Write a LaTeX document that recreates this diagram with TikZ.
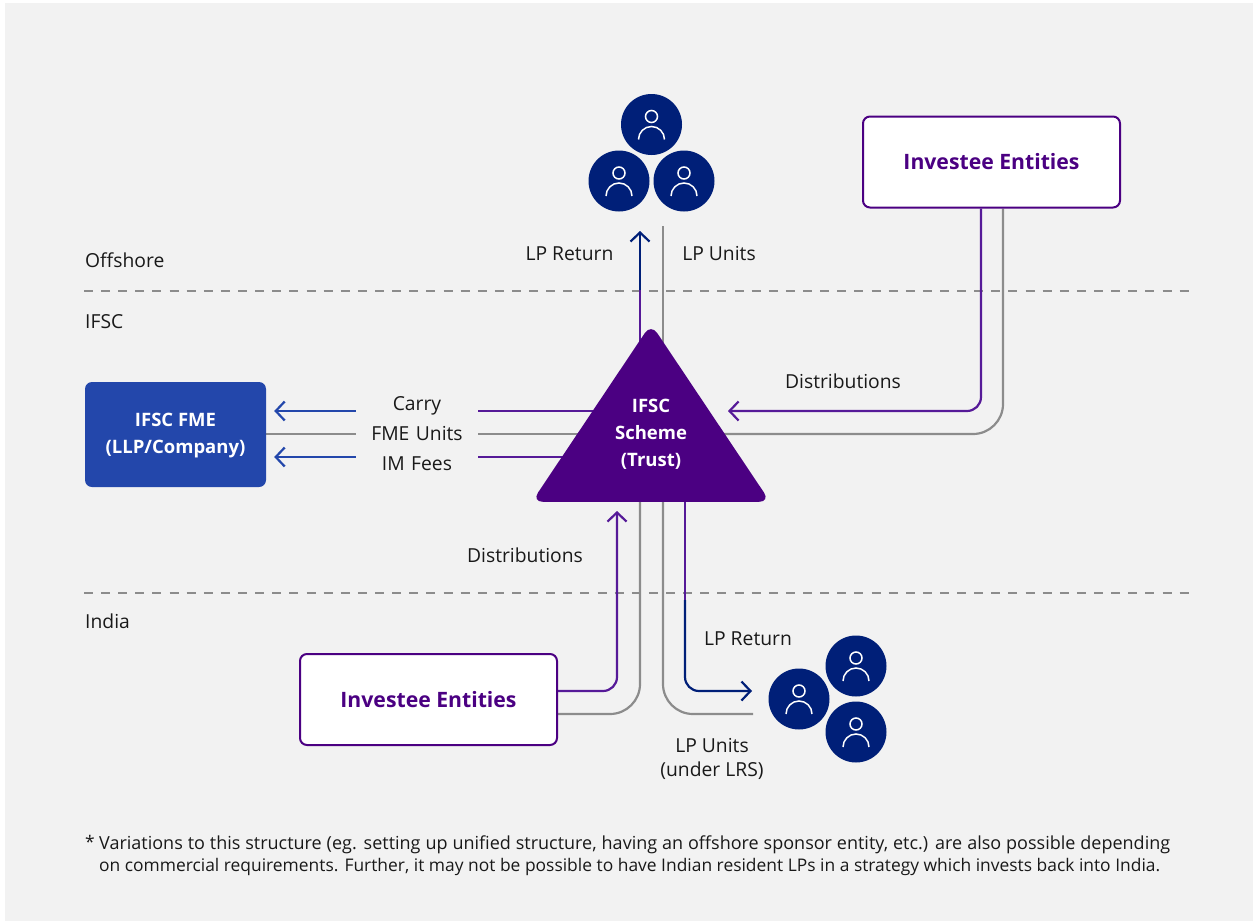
\documentclass[tikz,border=0pt]{standalone}
\usepackage{fontspec}
\setmainfont{Open Sans}
\usetikzlibrary{arrows.meta,backgrounds,shapes.geometric}

\definecolor{panelgray}{HTML}{F2F2F2}
\definecolor{schemepurple}{HTML}{4B0082}
\definecolor{linepurple}{HTML}{561A98}
\definecolor{linegray}{HTML}{8C8C8C}
\definecolor{fmeblue}{HTML}{2347AB}
\definecolor{navyblue}{HTML}{001F78}

\tikzstyle{arrow} = [line width=2.2pt,-{Straight Barb[length=9pt,width=19pt,line width=2.2pt]}]
\tikzstyle{purple_line} = [line width=2.2pt,draw=linepurple]
\tikzstyle{blue_line} = [line width=2.2pt,draw=fmeblue]
\tikzstyle{navy_line} = [line width=2.2pt,draw=navyblue]
\tikzstyle{gray_line} = [line width=2.2pt,draw=linegray]
\tikzstyle{zone_line} = [line width=1.5pt,draw=linegray,dash pattern=on 9pt off 8.12pt]
\tikzstyle{entity} = [rectangle, rounded corners=7pt, minimum width=257pt, minimum height=91pt, draw=schemepurple, fill=white, line width=2pt, text=schemepurple, font=\fontsize{21.2}{24}\selectfont\bfseries]
\tikzstyle{label} = [inner sep=0pt, font=\fontsize{19.3}{23.5}\selectfont, text=black!90, align=center]
\tikzstyle{zone} = [label, anchor=west]
\tikzstyle{flow} = [label, text width=122pt, anchor=base]
\tikzstyle{box_text} = [text=white, align=center, inner sep=0pt, font=\fontsize{18.5}{27}\selectfont\bfseries]
\tikzstyle{note_text} = [label, font=\fontsize{17.4}{22}\selectfont]

\tikzset{
  person/.pic={
    \node (disc) [circle, fill=navyblue, minimum size=61pt, inner sep=0pt] {};
    \draw [white, line width=1.5pt] (0,-8) circle (6pt);
    \draw [white, line width=1.5pt] (-13,15) arc (180:0:13pt);
  }
}

\begin{document}
\begin{tikzpicture}[x=1pt,y=-1pt]

    \useasboundingbox (0,0) rectangle (1253,921);

    % Draw nodes
    \node (scheme) [isosceles triangle, shape border rotate=90, isosceles triangle apex angle=67.6, minimum height=178pt, inner sep=0pt, rounded corners=11pt, fill=schemepurple, anchor=lower side] at (651,502) {};
    \node (schemeText) [box_text] at (651,434) {IFSC\\Scheme\\(Trust)};
    \node (fme) [rectangle, rounded corners=7pt, minimum width=181pt, minimum height=105pt, fill=fmeblue] at (175.5,434.5) {};
    \node (fmeText) [box_text] at (175.5,436) {IFSC FME\\(LLP/Company)};
    \node (investeeTop) [entity] at (991.5,162) {Investee Entities};
    \node (investeeBottom) [entity] at (428.5,699.5) {Investee Entities};

    \pic (lpTopA) at (651.5,124.5) {person};
    \pic (lpTopB) at (619,181) {person};
    \pic (lpTopC) at (684,181) {person};
    \pic (lpLowA) at (856,666) {person};
    \pic (lpLowB) at (799,699) {person};
    \pic (lpLowC) at (856,732) {person};

    % Draw labels
    \node (offshore) [zone] at (85,260) {Offshore};
    \node (ifsc) [zone] at (85,322) {IFSC};
    \node (india) [zone] at (85,621) {India};
    \node (returnTop) [label] at (569.5,254) {LP Return};
    \node (unitsTop) [label] at (719,254) {LP Units};
    \node (carry) [flow] at (417,410) {Carry};
    \node (fmeUnits) [flow] at (417,440) {FME Units};
    \node (imFees) [flow] at (417,470) {IM Fees};
    \node (distRight) [label] at (843,381) {Distributions};
    \node (distLeft) [label] at (525,555) {Distributions};
    \node (returnLow) [label] at (748,639) {LP Return};
    \node (unitsLow) [label] at (712,759) {LP Units\\(under LRS)};
    \node (star) [note_text, anchor=west] at (85,842) {*};
    \node (note) [note_text, anchor=north west, align=left] at (99,836) {\makebox[1071pt][s]{\fontsize{18}{22}\selectfont Variations to this structure (eg. setting up unified structure, having an offshore sponsor entity, etc.) are also possible depending}\\\makebox[1061pt][s]{on commercial requirements. Further, it may not be possible to have Indian resident LPs in a strategy which invests back into India.}};

    % Free ends of the connectors
    \coordinate (topTip) at (640,231);
    \coordinate (topEnd) at (663,226);
    \coordinate (topBlend) at (640,290);
    \coordinate (schemeRightTip) at (728,411);
    \coordinate (schemeRightIn) at (651,434);
    \coordinate (schemeLowTip) at (617,511);
    \coordinate (lowBlend) at (685,600);
    \coordinate (lowCorner) at (685,691);
    \coordinate (lowTip) at (752,691);
    \coordinate (lowEnd) at (753,714);

    % Draw connections
    \begin{scope}[on background layer]
        \fill [panelgray] (5,3) rectangle (1253,921);
        \draw [zone_line] (84,291) -- (1188.7,291);
        \draw [zone_line] (84,593) -- (1188.7,593);

        \draw [purple_line] (640,400) -- (topBlend);
        \draw [navy_line, arrow] (topBlend) -- (topTip);
        \draw [gray_line] (663,400) -- (topEnd);

        \draw [purple_line, arrow, rounded corners=14pt] ([xshift=-10.5pt]investeeTop.south) |- (schemeRightTip);
        \draw [gray_line, rounded corners=30pt] ([xshift=11.5pt]investeeTop.south) |- (schemeRightIn);

        \draw [blue_line, arrow, shorten >=8pt] ([yshift=-1pt]carry.base west) -- ([yshift=23.5pt]fme.east);
        \draw [purple_line] ([yshift=-1pt]carry.base east) -- ([yshift=-1pt]carry.base east -| scheme.center);
        \draw [gray_line] ([yshift=6pt]fmeUnits.base west) -- ([yshift=0.5pt]fme.east);
        \draw [gray_line] ([yshift=6pt]fmeUnits.base east) -- ([yshift=6pt]fmeUnits.base east -| scheme.center);
        \draw [blue_line, arrow, shorten >=8pt] ([yshift=13pt]imFees.base west) -- ([yshift=-22.5pt]fme.east);
        \draw [purple_line] ([yshift=13pt]imFees.base east) -- ([yshift=13pt]imFees.base east -| scheme.center);

        \draw [purple_line, arrow, rounded corners=14pt] ([yshift=8.5pt]investeeBottom.east) -| (schemeLowTip);
        \draw [gray_line, rounded corners=30pt] ([yshift=-14.5pt]investeeBottom.east) -| ([xshift=-11pt]scheme.south);
        \draw [gray_line, rounded corners=30pt] ([xshift=12pt]scheme.south) |- (lowEnd);
        \draw [purple_line] ([xshift=34pt]scheme.south) -- (lowBlend);
        \draw [navy_line, arrow, rounded corners=14pt] (lowBlend) -- (lowCorner) -- (lowTip);
    \end{scope}

\end{tikzpicture}
\end{document}
